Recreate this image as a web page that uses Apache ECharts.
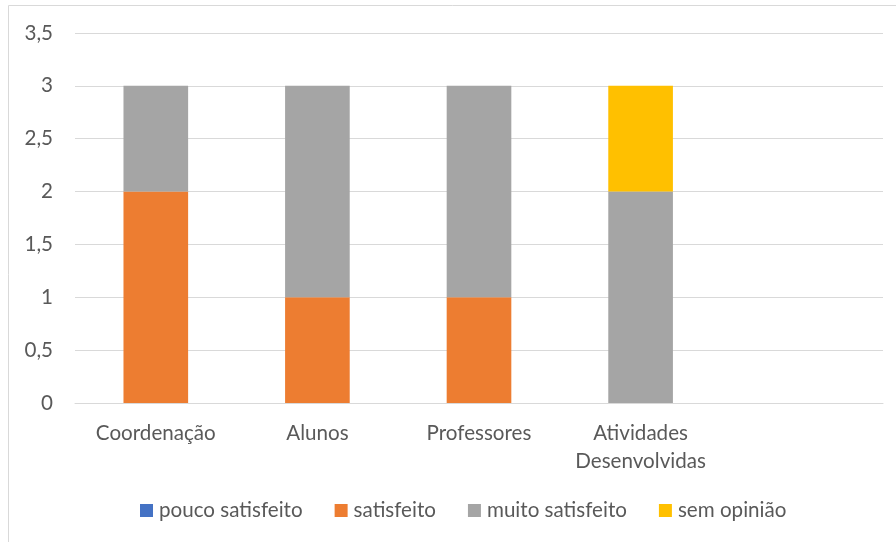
<!DOCTYPE html>
<html>
<head>
<meta charset="utf-8">
<script src="https://cdn.jsdelivr.net/npm/echarts@6/dist/echarts.min.js"></script>
<style>
  html, body { margin: 0; padding: 0; background: #fff; }
  #chart { width: 896px; height: 542px; }
</style>
</head>
<body>
<div id="chart"></div>
<script>
// categorias (a quinta fica vazia, como no original)
const categories = ['Coordenação', 'Alunos', 'Professores', 'Atividades\nDesenvolvidas', '']
const seriesNames = ['pouco satisfeito', 'satisfeito', 'muito satisfeito', 'sem opinião']
const poucoSatisfeito = [0, 0, 0, 0, 0]
const satisfeito = [2, 1, 1, 0, 0]
const muitoSatisfeito = [1, 2, 2, 2, 0]
const semOpiniao = [0, 0, 0, 1, 0]
const colors = ['#4472c4', '#ed7d31', '#a5a5a5', '#ffc000']

const font = 'Lato'
const textColor = '#595959'
const fontSize = 20.6

const chart = echarts.init(document.getElementById('chart'))

const allData = [poucoSatisfeito, satisfeito, muitoSatisfeito, semOpiniao]
const series = seriesNames.map((name, i) => ({
  name: name,
  type: 'bar',
  stack: 'total',
  barCategoryGap: '60%',
  data: allData[i],
  itemStyle: { color: colors[i] }
}))

const option = {
  animation: false,
  textStyle: { fontFamily: font },
  graphic: [{
    type: 'rect',
    shape: { x: 8.5, y: 5.5, width: 900, height: 560 },
    style: { fill: 'none', stroke: '#d9d9d9', lineWidth: 1 },
    silent: true
  }],
  grid: { left: 75, right: 13, top: 33, bottom: 139 },
  legend: {
    left: 135,
    top: 495,
    itemWidth: 13,
    itemHeight: 13,
    itemGap: 32,
    icon: 'rect',
    textStyle: { color: textColor, fontSize: fontSize, fontFamily: font, padding: [0, 0, 0, 1] },
    data: seriesNames
  },
  xAxis: {
    type: 'category',
    data: categories,
    axisTick: { show: false },
    axisLine: { lineStyle: { color: '#d9d9d9', width: 1 } },
    axisLabel: {
      color: textColor,
      fontSize: fontSize,
      fontFamily: font,
      lineHeight: 28,
      margin: 16,
      interval: 0
    }
  },
  yAxis: {
    type: 'value',
    min: 0,
    max: 3.5,
    interval: 0.5,
    axisLine: { show: false },
    axisTick: { show: false },
    splitLine: { lineStyle: { color: '#d9d9d9', width: 1 } },
    axisLabel: {
      color: textColor,
      fontSize: fontSize,
      fontFamily: font,
      margin: 22,
      formatter: v => String(v).replace('.', ',')
    }
  },
  series: series
}
chart.setOption(option)
</script>
</body>
</html>
